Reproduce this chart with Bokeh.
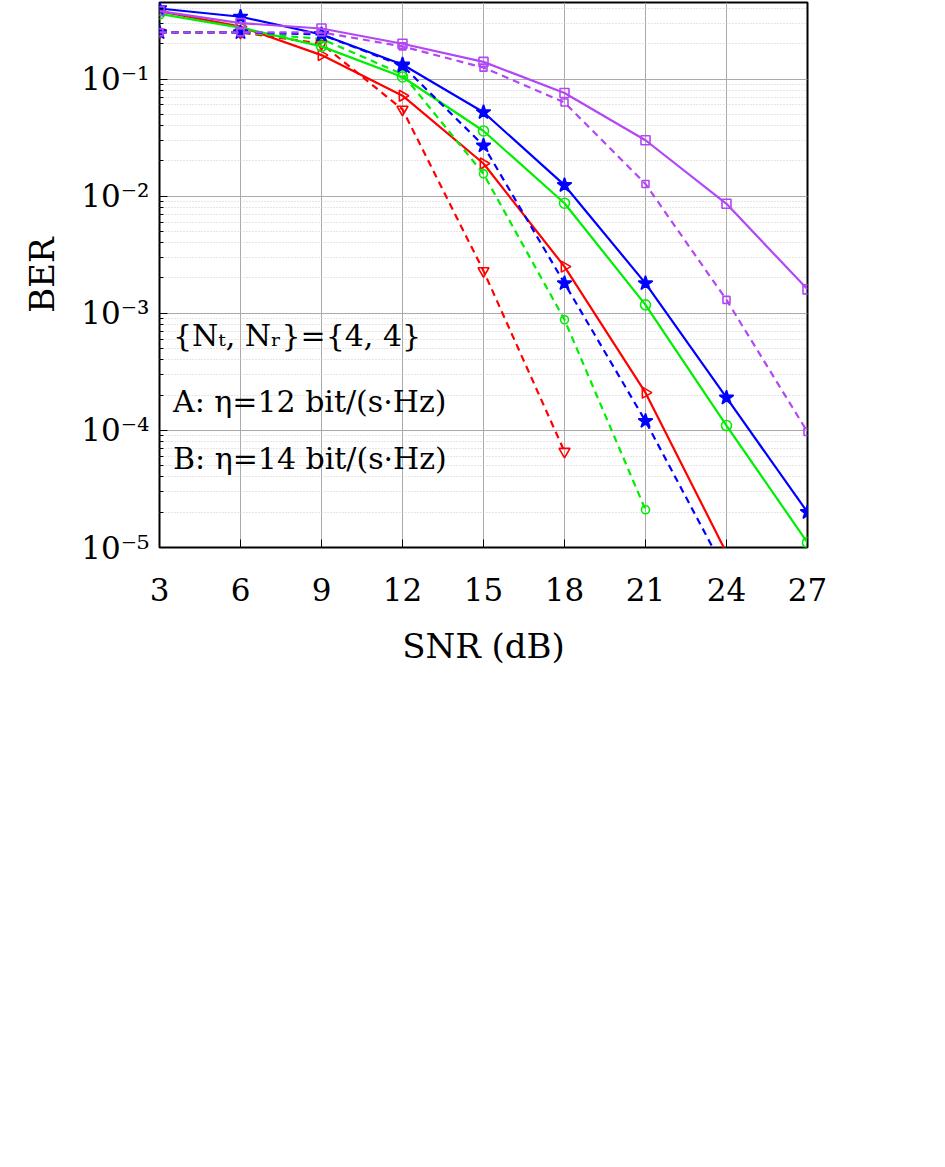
import numpy as np
from bokeh.plotting import figure
from bokeh.models import FixedTicker, Label, Legend, LegendItem
from bokeh.embed import file_html
from bokeh.resources import INLINE

snr = [3, 6, 9, 12, 15, 18, 21, 24, 27]
scta_mbris_A = [0.38, 0.28, 0.16, 0.072, 0.019, 0.0025, 2.1e-4, 9e-6]
cscta_mbris_A = [0.25, 0.25, 0.2, 0.055, 0.0023, 6.6e-5]
scta_ris_A = [0.36, 0.275, 0.19, 0.104, 0.036, 0.0087, 0.00118, 1.1e-4, 1.1e-5]
cscta_ris_A = [0.25, 0.25, 0.22, 0.11, 0.0155, 8.8e-4, 2.1e-5]
scta_mbris_B = [0.4, 0.34, 0.24, 0.133, 0.052, 0.0124, 0.0018, 1.9e-4, 2e-5]
cscta_mbris_B = [0.25, 0.25, 0.24, 0.13, 0.027, 0.0018, 1.2e-4, 6e-6]
scta_ris_B = [0.38, 0.3, 0.27, 0.2, 0.14, 0.076, 0.03, 0.0086, 0.0016]
cscta_ris_B = [0.25, 0.25, 0.25, 0.19, 0.125, 0.063, 0.0127, 0.0013, 9.7e-5]

labels = ["SCTA-MBRIS-SM 4-ary SC (30, 5, 4) A",
          "CSCTA-MBRIS-SM 4-ary SC (30, 5, 4) A",
          "SCTA-RIS-SM N=24 16-ary SC A",
          "CSCTA-RIS-SM N=24 16-ary SC A",
          "SCTA-MBRIS-SM 4-ary SC (32, 8, 6) B",
          "CSCTA-MBRIS-SM 4-ary SC (32, 8, 6) B",
          "SCTA-RIS-SM N=24 64-ary SC B",
          "CSCTA-RIS-SM N=24 64-ary SC B"]
series = [scta_mbris_A, cscta_mbris_A, scta_ris_A, cscta_ris_A,
          scta_mbris_B, cscta_mbris_B, scta_ris_B, cscta_ris_B]
RED, GREEN, BLUE, PURPLE = "#ff0000", "#00ee00", "#0000ff", "#b347f5"
colors = [RED, RED, GREEN, GREEN, BLUE, BLUE, PURPLE, PURPLE]
dashes = ["solid", "7 5"] * 4
markers = ["triangle", "inverted_triangle", "circle", "circle", "star", "star", "square", "square"]
angles = [-np.pi / 2, 0, 0, 0, 0, 0, 0, 0]
msizes = [11, 11, 10, 8, 15, 15, 9, 7]
fills = [None, None, None, None, "blue", "blue", None, None]

FONT = "DejaVu Serif"
p = figure(width=937, height=1150, y_axis_type="log", x_range=(3, 27), y_range=(1e-5, 0.45),
           output_backend="svg", toolbar_location=None,
           min_border_left=159, min_border_right=130, min_border_top=2, min_border_bottom=603)
p.outline_line_color = "black"
p.outline_line_width = 2
items = []
for x in range(len(series)):
    ys = series[x]
    xs = snr[:len(ys)]
    r1 = p.line(xs, ys, color=colors[x], line_width=2.2, line_dash=dashes[x])
    r2 = p.scatter(xs, ys, marker=markers[x], size=msizes[x], angle=angles[x], line_color=colors[x],
                   fill_color=fills[x], line_width=1.6)
    items.append(LegendItem(label=labels[x], renderers=[r1, r2]))
p.xaxis.ticker = FixedTicker(ticks=snr)
p.yaxis.ticker = FixedTicker(ticks=[1e-5, 1e-4, 1e-3, 1e-2, 1e-1],
                             minor_ticks=[m * 10.0 ** e for e in range(-5, 0) for m in range(2, 10)])
p.yaxis.major_label_overrides = {1e-5: "10⁻⁵", 1e-4: "10⁻⁴", 1e-3: "10⁻³", 1e-2: "10⁻²", 1e-1: "10⁻¹"}
for ax in (p.xaxis[0], p.yaxis[0]):
    ax.major_label_text_font = FONT
    ax.major_label_text_font_size = "31px"
    ax.major_label_text_color = "black"
    ax.axis_label_text_font = FONT
    ax.axis_label_text_font_size = "34px"
    ax.axis_label_text_font_style = "normal"
    ax.axis_label_text_color = "black"
    ax.axis_line_color = None
    ax.major_tick_in = 8
    ax.major_tick_out = 0
    ax.minor_tick_in = 4
    ax.minor_tick_out = 0
p.xaxis.minor_tick_line_color = None
p.xaxis.axis_label = "SNR (dB)"
p.yaxis.axis_label = "BER"
p.xaxis.major_label_standoff = 30
p.xaxis.axis_label_standoff = 22
p.yaxis.major_label_standoff = 10
p.yaxis.axis_label_standoff = 16
p.xgrid.grid_line_color = "#aaaaaa"
p.ygrid.grid_line_color = "#aaaaaa"
p.ygrid.minor_grid_line_color = "#cccccc"
p.ygrid.minor_grid_line_dash = "1 2"

for txt, yv in [("{Nₜ, Nᵣ}={4, 4}", 10 ** -3.19), ("A: η=12 bit/(s·Hz)", 10 ** -3.75),
                ("B: η=14 bit/(s·Hz)", 10 ** -4.24)]:
    p.add_layout(Label(x=3.5, y=yv, text=txt, text_font=FONT, text_font_size="30px",
                       text_color="black", text_baseline="middle"))

legend = Legend(items=items, location=(-145, -525), padding=0, margin=0,
                border_line_color=None, background_fill_alpha=0,
                glyph_width=72, glyph_height=36, spacing=7, label_standoff=16,
                label_text_font=FONT, label_text_font_size="33px", label_text_color="black")
p.add_layout(legend, "center")

open("out.html", "w").write(file_html(p, INLINE))
